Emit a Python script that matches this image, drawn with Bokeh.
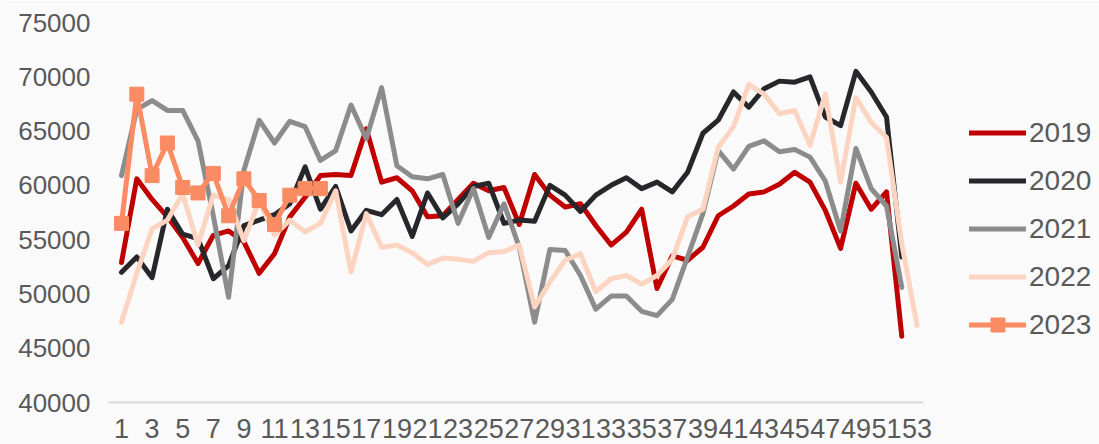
from bokeh.plotting import figure
from bokeh.models import Range1d, FixedTicker, Legend, LegendItem
from bokeh.embed import file_html
from bokeh.resources import INLINE

weeks = list(range(1, 54))
x_ticks = list(range(1, 54, 2))
y_ticks = list(range(40000, 75001, 5000))

y2019 = [52900, 60600, 58700, 57100, 55200, 52800, 55400, 55800, 54800, 51900,
         53700, 57100, 58900, 60900, 61000, 60900, 65200, 60300, 60700, 59500,
         57100, 57200, 58700, 60200, 59500, 59800, 56400, 61000, 59100, 58000,
         58300, 56300, 54500, 55700, 57800, 50500, 53500, 53100, 54300, 57200,
         58100, 59200, 59400, 60100, 61200, 60300, 57700, 54200, 60200, 57800,
         59400, 46100]
y2020 = [52000, 53400, 51500, 57800, 55500, 55100, 51400, 52600, 56300, 56800,
         57300, 58300, 61700, 57800, 59900, 55800, 57700, 57300, 58700, 55300,
         59300, 57000, 58300, 59900, 60200, 56500, 56800, 56700, 60000, 59100,
         57600, 59100, 60000, 60700, 59700, 60300, 59400, 61200, 64800, 66000,
         68600, 67200, 68900, 69600, 69500, 70000, 66300, 65500, 70500, 68600,
         66300, 53400]
y2021 = [60900, 67000, 67800, 66900, 66900, 64100, 57200, 49700, 61400, 66000,
         63900, 65900, 65400, 62300, 63200, 67400, 64300, 69000, 61800, 60800,
         60600, 61000, 56500, 59700, 55200, 58300, 54300, 47400, 54100, 54000,
         51700, 48600, 49800, 49800, 48400, 48000, 49500, 53400, 57400, 63200,
         61500, 63600, 64100, 63100, 63300, 62600, 60400, 55800, 63400, 59700,
         58100, 50600]
y2022 = [47400, 51900, 56000, 56800, 59200, 54500, 59100, 58700, 54900, 58600,
         55400, 56800, 55700, 56500, 59500, 52000, 57400, 54300, 54500, 53800,
         52700, 53300, 53200, 53000, 53800, 53900, 54500, 48800, 51100, 53100,
         53700, 50200, 51400, 51700, 50900, 51700, 53200, 57100, 57800, 63500,
         65400, 69300, 68400, 66600, 66900, 63700, 68400, 60300, 68100, 65800,
         64400, 54600, 47100]
y2023 = [56500, 68400, 60900, 63900, 59800, 59300, 61100, 57200, 60600, 58600,
         56400, 59100, 59700, 59700]

series_names = ["2019", "2020", "2021", "2022", "2023"]
colors = ["#C00000", "#27272B", "#8C8C8C", "#FCD5C2", "#FA8B62"]

FONT = "Liberation Sans"
TXT = "#595959"
BG = "#FAFAFA"

# frame spans to the right edge so the legend (drawn inside it) is not clipped;
# the axis itself is bounded to the category span
PX_PER_WEEK = 15.3
X_START = 1 - 13 / PX_PER_WEEK
X_END = X_START + 991 / PX_PER_WEEK

p = figure(width=1099, height=444, output_backend="svg", toolbar_location=None,
           x_range=Range1d(X_START, X_END), y_range=Range1d(40000, 75000),
           min_border_left=108, min_border_right=0, min_border_top=22,
           min_border_bottom=42)
p.background_fill_color = BG
p.border_fill_color = BG
p.outline_line_color = None
p.grid.visible = False

p.xaxis.ticker = FixedTicker(ticks=x_ticks)
p.xaxis.bounds = (X_START, 53.42)
p.yaxis.ticker = FixedTicker(ticks=y_ticks)
for ax in (p.xaxis[0], p.yaxis[0]):
    ax.major_tick_line_color = None
    ax.minor_tick_line_color = None
    ax.major_label_text_font = FONT
    ax.major_label_text_color = TXT
p.xaxis.major_label_text_font_size = "27px"
p.yaxis.major_label_text_font_size = "26px"
p.xaxis.axis_line_color = "#D9D9D9"
p.xaxis.axis_line_width = 2
p.xaxis.major_label_standoff = 10
p.yaxis.axis_line_color = None
p.yaxis.major_label_standoff = 12

data = [y2019, y2020, y2021, y2022]
items = []
for name, ys, c in zip(series_names[:4], data, colors[:4]):
    r = p.line(weeks[:len(ys)], ys, line_color=c, line_width=5,
               line_join="round", line_cap="round")
    items.append(LegendItem(label=name, renderers=[r]))

r5 = p.line(weeks[:len(y2023)], y2023, line_color=colors[4], line_width=5,
            line_join="round", line_cap="round")
s5 = p.scatter(weeks[:len(y2023)], y2023, marker="square", size=14,
               fill_color=colors[4], line_color=colors[4])
items.append(LegendItem(label="2023", renderers=[r5, s5]))

legend = Legend(items=items, location=(861, 60), padding=0, margin=0,
                border_line_color=None, background_fill_alpha=0,
                label_text_font=FONT, label_text_font_size="28px",
                label_text_color=TXT, glyph_width=57, glyph_height=35,
                label_standoff=3, spacing=13)
p.add_layout(legend, "center")

open("out.html", "w").write(file_html(p, INLINE))
